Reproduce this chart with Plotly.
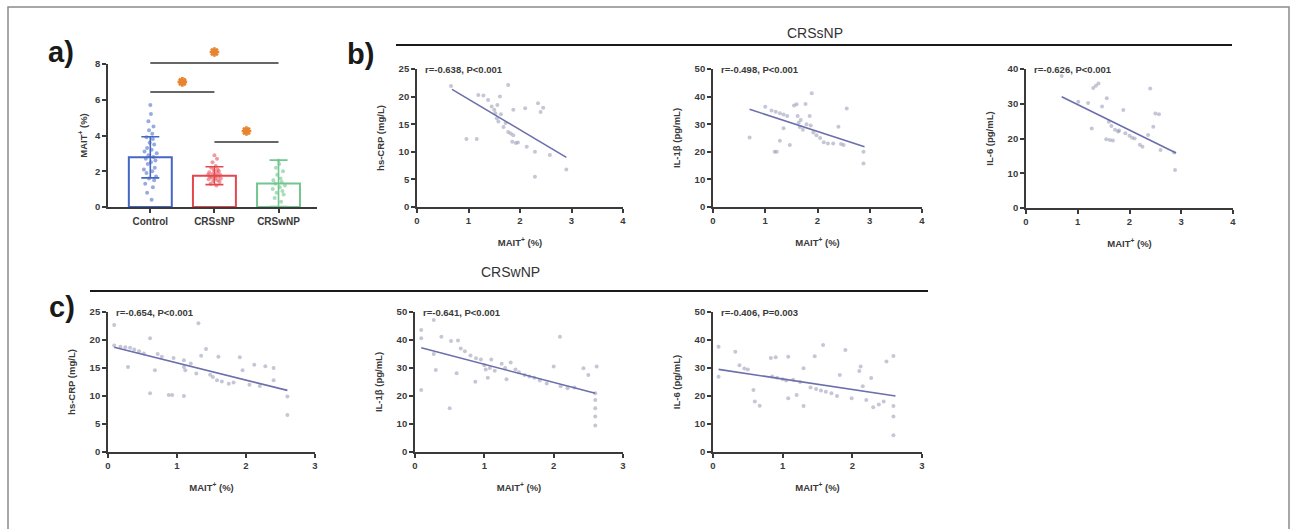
import plotly.graph_objects as go

W, H = 1293, 529

# ---------------- data ----------------
groups = ["Control", "CRSsNP", "CRSwNP"]
group_means = [2.78, 1.75, 1.32]
group_sd = [1.15, 0.50, 1.30]

ctrl_vals = [0.4, 0.8, 1.1, 1.3, 1.5, 1.6, 1.7, 1.9, 2.0, 2.1, 2.2, 2.4, 2.5, 2.6, 2.7, 2.8,
             2.9, 3.0, 3.1, 3.2, 3.3, 3.5, 3.6, 3.8, 3.9, 4.1, 4.3, 4.5, 4.8, 5.2, 5.7]
ctrl_jit = [0.02, -0.05, 0.04, -0.08, 0.06, -0.02, 0.09, -0.06, 0.03, -0.10, 0.07, -0.04, 0.01,
            0.08, -0.07, 0.05, -0.03, 0.10, -0.09, 0.02, -0.05, 0.06, -0.01, 0.04, -0.06, 0.03,
            -0.02, 0.05, -0.03, 0.01, 0.0]
snp_vals = [1.2, 1.3, 1.4, 1.45, 1.5, 1.55, 1.6, 1.6, 1.65, 1.7, 1.7, 1.75, 1.8, 1.8, 1.85,
            1.9, 1.95, 2.0, 2.05, 2.1, 2.2, 2.3, 2.5, 2.7, 2.9]
snp_jit = [0.03, -0.06, 0.08, -0.02, 0.05, -0.09, 0.01, 0.10, -0.04, 0.06, -0.07, 0.02, -0.10,
           0.09, -0.03, 0.04, -0.08, 0.07, -0.01, 0.05, -0.05, 0.02, -0.03, 0.04, 0.0]
wnp_vals = [0.3, 0.5, 0.7, 0.8, 0.9, 1.0, 1.1, 1.2, 1.3, 1.4, 1.5, 1.6, 1.8, 2.0, 2.2, 2.4, 2.6]
wnp_jit = [0.04, -0.06, 0.08, -0.03, 0.06, -0.09, 0.02, 0.10, -0.05, 0.05, -0.08, 0.03, -0.02,
           0.07, -0.04, 0.01, 0.0]

# significance brackets (value units of panel a)
sig_x0 = [0, 0, 1]
sig_x1 = [2, 1, 2]
sig_y = [8.06, 6.43, 3.64]
star_x = [1.0, 0.5, 1.5]
star_y = [8.67, 7.0, 4.25]

# CRSsNP correlations
b1_x = [0.66, 0.96, 1.16, 1.19, 1.29, 1.38, 1.45, 1.50, 1.52, 1.55, 1.56, 1.58, 1.61, 1.63, 1.68,
        1.72, 1.77, 1.77, 1.82, 1.85, 1.87, 1.87, 1.92, 1.96, 2.10, 2.13, 2.29, 2.29, 2.35, 2.40,
        2.45, 2.58, 2.90]
b1_y = [21.9, 12.3, 12.3, 20.3, 20.2, 19.4, 18.2, 17.6, 17.0, 16.1, 18.5, 15.5, 20.0, 16.8, 14.5,
        15.2, 22.1, 13.6, 13.3, 11.8, 17.6, 13.0, 11.6, 11.7, 17.9, 10.9, 10.0, 5.5, 18.8, 17.2,
        18.0, 9.4, 6.8]
b1_fit_x = [0.68, 2.90]
b1_fit_y = [21.3, 9.0]

b2_x = [0.70, 1.00, 1.12, 1.18, 1.20, 1.22, 1.28, 1.28, 1.35, 1.35, 1.42, 1.47, 1.55, 1.60, 1.62,
        1.64, 1.66, 1.68, 1.72, 1.77, 1.79, 1.85, 1.87, 1.89, 1.92, 1.98, 2.05, 2.12, 2.20, 2.30,
        2.40, 2.45, 2.50, 2.56, 2.88, 2.88]
b2_y = [25.2, 36.3, 35.0, 20.0, 34.5, 20.0, 34.0, 24.0, 33.5, 28.5, 33.0, 22.5, 36.8, 37.2, 33.0,
        30.5, 29.0, 31.5, 28.0, 37.3, 30.0, 33.0, 29.5, 41.2, 27.0, 26.0, 25.0, 23.5, 23.0, 23.0,
        29.1, 22.8, 22.5, 35.7, 20.0, 15.8]
b2_fit_x = [0.70, 2.90]
b2_fit_y = [35.4, 21.8]

b3_x = [0.69, 1.01, 1.20, 1.27, 1.30, 1.35, 1.40, 1.47, 1.55, 1.56, 1.60, 1.62, 1.65, 1.68, 1.72,
        1.78, 1.80, 1.88, 1.92, 2.00, 2.05, 2.10, 2.20, 2.25, 2.36, 2.40, 2.46, 2.50, 2.57, 2.60,
        2.86, 2.88]
b3_y = [38.0, 30.6, 30.2, 22.9, 34.5, 35.2, 35.8, 29.2, 19.8, 31.6, 24.8, 19.6, 23.6, 19.4, 22.5,
        22.0, 22.3, 28.2, 21.5, 20.8, 20.2, 20.0, 18.2, 17.6, 21.0, 34.4, 23.4, 27.2, 27.0, 16.7,
        16.0, 10.9]
b3_fit_x = [0.69, 2.90]
b3_fit_y = [32.0, 15.8]

# CRSwNP correlations
c1_x = [0.09, 0.09, 0.18, 0.25, 0.29, 0.32, 0.38, 0.45, 0.52, 0.61, 0.61, 0.68, 0.72, 0.78, 0.88,
        0.93, 0.95, 1.10, 1.10, 1.10, 1.12, 1.20, 1.28, 1.31, 1.35, 1.42, 1.48, 1.52, 1.58, 1.60,
        1.65, 1.75, 1.82, 1.91, 1.95, 2.05, 2.12, 2.20, 2.28, 2.40, 2.40, 2.60, 2.60]
c1_y = [22.7, 19.0, 18.8, 18.7, 15.2, 18.6, 18.3, 18.0, 17.6, 20.3, 10.5, 14.6, 17.5, 17.0, 10.2,
        10.2, 16.8, 16.4, 15.2, 10.0, 14.6, 15.8, 14.0, 23.0, 17.2, 18.4, 13.8, 13.4, 12.8, 17.0,
        12.6, 12.2, 12.4, 16.9, 14.6, 12.0, 15.6, 11.8, 15.3, 15.0, 12.8, 9.9, 6.6]
c1_fit_x = [0.09, 2.60]
c1_fit_y = [18.7, 11.0]

c2_x = [0.09, 0.09, 0.09, 0.27, 0.27, 0.30, 0.38, 0.50, 0.52, 0.60, 0.62, 0.66, 0.72, 0.80, 0.87,
        0.88, 0.95, 1.00, 1.02, 1.05, 1.08, 1.10, 1.15, 1.25, 1.30, 1.32, 1.38, 1.45, 1.50, 1.58,
        1.65, 1.72, 1.80, 1.90, 2.00, 2.09, 2.10, 2.20, 2.30, 2.43, 2.50, 2.60, 2.60, 2.60, 2.60,
        2.62, 2.60]
c2_y = [43.6, 40.6, 22.1, 47.1, 35.0, 29.3, 41.2, 15.6, 39.6, 28.1, 39.8, 37.0, 36.0, 34.5, 25.1,
        33.5, 33.0, 31.0, 29.5, 26.5, 30.0, 33.0, 29.0, 31.5, 30.0, 26.0, 32.0, 29.5, 28.5, 27.5,
        27.0, 26.5, 25.5, 24.5, 30.5, 41.2, 23.5, 22.8, 23.0, 29.9, 27.5, 21.0, 18.6, 15.6, 12.7,
        30.5, 9.5]
c2_fit_x = [0.09, 2.60]
c2_fit_y = [37.2, 21.0]

c3_x = [0.08, 0.08, 0.32, 0.38, 0.45, 0.50, 0.58, 0.60, 0.67, 0.83, 0.85, 0.90, 0.92, 1.00, 1.05,
        1.08, 1.08, 1.15, 1.20, 1.25, 1.30, 1.30, 1.40, 1.46, 1.48, 1.55, 1.58, 1.62, 1.70, 1.78,
        1.82, 1.90, 1.99, 2.10, 2.12, 2.15, 2.20, 2.27, 2.30, 2.38, 2.45, 2.49, 2.59, 2.59, 2.59,
        2.59]
c3_y = [37.6, 26.9, 35.8, 31.0, 29.8, 29.5, 22.1, 18.0, 16.5, 33.6, 27.0, 33.8, 26.5, 26.0, 25.5,
        34.0, 19.2, 25.8, 20.4, 25.0, 29.9, 16.4, 23.0, 34.2, 22.5, 22.0, 38.2, 21.5, 21.0, 20.0,
        27.5, 36.4, 19.2, 28.9, 30.5, 23.5, 18.6, 26.4, 16.0, 17.0, 18.0, 32.3, 34.3, 16.4, 12.7,
        6.0]
c3_fit_x = [0.08, 2.62]
c3_fit_y = [29.5, 20.0]

stats = ["r=-0.638, P<0.001", "r=-0.498, P<0.001", "r=-0.626, P<0.001",
         "r=-0.654, P<0.001", "r=-0.641, P<0.001", "r=-0.406, P=0.003"]
ytitles = ["hs-CRP (mg/L)", "IL-1β (pg/mL)", "IL-6 (pg/mL)",
           "hs-CRP (mg/L)", "IL-1β (pg/mL)", "IL-6 (pg/mL)"]

# ---------------- styling helpers ----------------
FONT = "Liberation Sans, Arial, sans-serif"
AX = "#3a3a3a"
TF = dict(family=FONT, size=9.5, color=AX, weight="bold")
TIF = dict(family=FONT, size=9.5, color=AX, weight="bold")
BAR_COLORS = ["#4466c4", "#e4484e", "#72c68e"]
PT_COLORS = ["rgba(68,102,196,0.55)", "rgba(228,72,78,0.55)", "rgba(114,198,142,0.6)"]
STAR = "#e8832e"
SC_PT = "rgba(150,152,180,0.55)"
FIT = "#6b6fab"


def dx(p):
    return p / W


def dy(p):
    return 1 - p / H


def axis(d0, d1, anchor, rng, tickvals, title, standoff, ticktext=None, vertical=False):
    dom = [dy(d1), dy(d0)] if vertical else [dx(d0), dx(d1)]
    a = dict(domain=dom, anchor=anchor, range=rng, tickvals=tickvals,
             showline=True, linecolor=AX, linewidth=1.8, ticks="outside", ticklen=4,
             tickwidth=1.6, tickcolor=AX, showgrid=False, zeroline=False, tickfont=TF,
             title=dict(text=title, font=TIF, standoff=standoff), fixedrange=True,
             automargin=False)
    if ticktext is not None:
        a["ticktext"] = ticktext
    return a


fig = go.Figure()
layout = {}

# ---------------- panel a ----------------
layout["xaxis"] = axis(108, 317, "y", [-0.66, 2.6], [0, 1, 2], None, 0, ticktext=groups)
layout["yaxis"] = axis(64, 207, "x", [0, 8], [0, 2, 4, 6, 8], "MAIT<sup>+</sup> (%)", 6,
                       vertical=True)
layout["xaxis"]["tickfont"] = dict(family=FONT, size=10, color=AX, weight="bold")
# invisible overlay axis for brackets (same scale, taller domain)
layout["yaxis8"] = dict(domain=[dy(207), dy(40)], anchor="x", range=[0, (207 - 40) / 17.875],
                        visible=False, fixedrange=True)

for i, g in enumerate(groups):
    fig.add_trace(go.Bar(x=[i], y=[group_means[i]], width=0.67,
                         marker=dict(color="rgba(255,255,255,0)",
                                     line=dict(color=BAR_COLORS[i], width=2)),
                         error_y=dict(type="data", array=[group_sd[i]], color=BAR_COLORS[i],
                                      thickness=1.6, width=9),
                         xaxis="x", yaxis="y", showlegend=False))

for i, (vals, jit) in enumerate([(ctrl_vals, ctrl_jit), (snp_vals, snp_jit), (wnp_vals, wnp_jit)]):
    fig.add_trace(go.Scatter(x=[i + j for j in jit], y=vals, mode="markers",
                             marker=dict(size=4, color=PT_COLORS[i]),
                             xaxis="x", yaxis="y", showlegend=False))

for x0, x1, yv in zip(sig_x0, sig_x1, sig_y):
    fig.add_trace(go.Scatter(x=[x0, x1], y=[yv, yv], mode="lines",
                             line=dict(color="#333333", width=1.6),
                             xaxis="x", yaxis="y8", showlegend=False))
fig.add_trace(go.Scatter(x=star_x, y=star_y, mode="markers",
                         marker=dict(symbol="asterisk-open", size=8, color=STAR,
                                     line=dict(color=STAR, width=2.6)),
                         xaxis="x", yaxis="y8", showlegend=False, cliponaxis=False))

# ---------------- panels b / c ----------------
panels = [
    (417, 623, 69, 207, [0, 4], [0, 1, 2, 3, 4], [0, 25], [0, 5, 10, 15, 20, 25],
     b1_x, b1_y, b1_fit_x, b1_fit_y),
    (713, 922, 69, 207, [0, 4], [0, 1, 2, 3, 4], [0, 50], [0, 10, 20, 30, 40, 50],
     b2_x, b2_y, b2_fit_x, b2_fit_y),
    (1026, 1233, 69, 208, [0, 4], [0, 1, 2, 3, 4], [0, 40], [0, 10, 20, 30, 40],
     b3_x, b3_y, b3_fit_x, b3_fit_y),
    (108, 315, 312, 452, [0, 3], [0, 1, 2, 3], [0, 25], [0, 5, 10, 15, 20, 25],
     c1_x, c1_y, c1_fit_x, c1_fit_y),
    (415, 623, 312, 452, [0, 3], [0, 1, 2, 3], [0, 50], [0, 10, 20, 30, 40, 50],
     c2_x, c2_y, c2_fit_x, c2_fit_y),
    (713, 922, 312, 452, [0, 3], [0, 1, 2, 3], [0, 50], [0, 10, 20, 30, 40, 50],
     c3_x, c3_y, c3_fit_x, c3_fit_y),
]

annotations = []
for k, (x0, x1, yt, yb, xr, xt, yr, yt_vals, xs, ys, fx, fy) in enumerate(panels):
    n = k + 2
    xa, ya = f"x{n}", f"y{n}"
    layout[f"xaxis{n}"] = axis(x0, x1, ya, xr, xt, "MAIT<sup>+</sup> (%)", 14)
    layout[f"yaxis{n}"] = axis(yt, yb, xa, yr, yt_vals, ytitles[k], 12, vertical=True)
    fig.add_trace(go.Scatter(x=xs, y=ys, mode="markers",
                             marker=dict(size=4, color=SC_PT),
                             xaxis=xa, yaxis=ya, showlegend=False))
    fig.add_trace(go.Scatter(x=fx, y=fy, mode="lines", line=dict(color=FIT, width=1.6),
                             xaxis=xa, yaxis=ya, showlegend=False))
    annotations.append(dict(text=stats[k], xref=f"{xa} domain", yref=f"{ya} domain",
                            x=0.03, y=1.0, xanchor="left", yanchor="middle", showarrow=False,
                            font=dict(family=FONT, size=9.5, color=AX, weight="bold")))

# section headers and panel labels
annotations += [
    dict(text="CRSsNP", xref="paper", yref="paper", x=dx(815), y=dy(33), showarrow=False,
         xanchor="center", yanchor="middle", font=dict(family=FONT, size=14, color="#333")),
    dict(text="CRSwNP", xref="paper", yref="paper", x=dx(510), y=dy(272), showarrow=False,
         xanchor="center", yanchor="middle", font=dict(family=FONT, size=14, color="#333")),
    dict(text="a)", xref="paper", yref="paper", x=dx(61), y=dy(52), showarrow=False,
         xanchor="center", yanchor="middle",
         font=dict(family=FONT, size=29, color="#1a1a1a", weight="bold")),
    dict(text="b)", xref="paper", yref="paper", x=dx(360), y=dy(54), showarrow=False,
         xanchor="center", yanchor="middle",
         font=dict(family=FONT, size=29, color="#1a1a1a", weight="bold")),
    dict(text="c)", xref="paper", yref="paper", x=dx(62), y=dy(307), showarrow=False,
         xanchor="center", yanchor="middle",
         font=dict(family=FONT, size=29, color="#1a1a1a", weight="bold")),
]

shapes = [
    dict(type="rect", xref="paper", yref="paper", x0=dx(8), x1=dx(1289), y0=dy(540), y1=dy(7),
         line=dict(color="#8a8a8a", width=1.5), fillcolor="rgba(0,0,0,0)"),
    dict(type="line", xref="paper", yref="paper", x0=dx(396), x1=dx(1232), y0=dy(45), y1=dy(45),
         line=dict(color="#1a1a1a", width=2)),
    dict(type="line", xref="paper", yref="paper", x0=dx(90), x1=dx(928), y0=dy(291), y1=dy(291),
         line=dict(color="#1a1a1a", width=2)),
]

fig.update_layout(
    width=W, height=H, autosize=False,
    margin=dict(l=0, r=0, t=0, b=0),
    paper_bgcolor="white", plot_bgcolor="rgba(0,0,0,0)",
    barmode="overlay", showlegend=False,
    annotations=annotations, shapes=shapes,
    font=dict(family=FONT, color=AX),
    **layout,
)

# remove the browser's default 8px body margin so figure pixels match page pixels
fig.write_html("out.html", config={"displayModeBar": False},
               post_script="document.body.style.margin='0';")
